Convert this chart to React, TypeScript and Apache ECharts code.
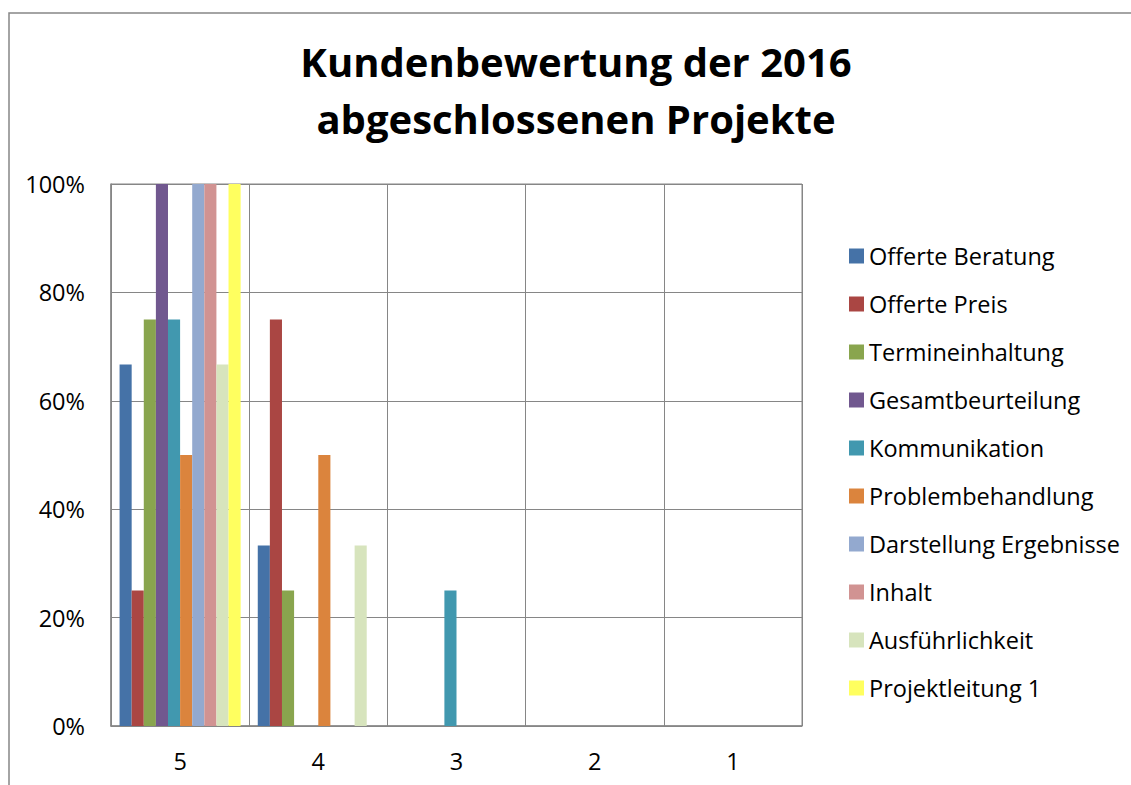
import React, { useEffect, useRef } from "react";
import * as echarts from "echarts";

const categories = ["5", "4", "3", "2", "1"];
const seriesNames = [
  "Offerte Beratung",
  "Offerte Preis",
  "Termineinhaltung",
  "Gesamtbeurteilung",
  "Kommunikation",
  "Problembehandlung",
  "Darstellung Ergebnisse",
  "Inhalt",
  "Ausführlichkeit",
  "Projektleitung 1",
];
const offerteBeratung = [66.7, 33.3, 0, 0, 0];
const offertePreis = [25, 75, 0, 0, 0];
const termineinhaltung = [75, 25, 0, 0, 0];
const gesamtbeurteilung = [100, 0, 0, 0, 0];
const kommunikation = [75, 0, 25, 0, 0];
const problembehandlung = [50, 50, 0, 0, 0];
const darstellung = [100, 0, 0, 0, 0];
const inhalt = [100, 0, 0, 0, 0];
const ausfuehrlichkeit = [66.7, 33.3, 0, 0, 0];
const projektleitung = [100, 0, 0, 0, 0];
const seriesValues = [
  offerteBeratung,
  offertePreis,
  termineinhaltung,
  gesamtbeurteilung,
  kommunikation,
  problembehandlung,
  darstellung,
  inhalt,
  ausfuehrlichkeit,
  projektleitung,
];
const colors = [
  "#4572A7",
  "#AA4643",
  "#89A54E",
  "#71588F",
  "#4198AF",
  "#DB843D",
  "#93A9CF",
  "#D19392",
  "#D7E4BD",
  "#FFFF5F",
];
const titleLines = ["Kundenbewertung der 2016", "abgeschlossenen Projekte"];

const FONT = "'Open Sans', 'Noto Sans', sans-serif";

export default function App() {
  const ref = useRef<HTMLDivElement>(null);
  useEffect(() => {
    if (!ref.current) return;
    const chart = echarts.init(ref.current, null, { renderer: "svg" });
    chart.setOption({
      animation: false,
      backgroundColor: "#ffffff",
      color: colors,
      title: {
        text: titleLines.join("\n"),
        left: 576,
        top: 33,
        padding: 0,
        textAlign: "center",
        textStyle: {
          fontFamily: FONT,
          fontWeight: "bold",
          fontSize: 40,
          lineHeight: 57,
          color: "#000",
        },
      },
      legend: {
        orient: "vertical",
        left: 849,
        top: 244,
        padding: 0,
        itemWidth: 15,
        itemHeight: 15,
        itemGap: 24,
        icon: "rect",
        data: seriesNames,
        textStyle: {
          fontFamily: FONT,
          fontSize: 23.5,
          lineHeight: 24,
          color: "#000",
        },
      },
      grid: {
        left: 111,
        top: 184,
        width: 691,
        height: 542,
        show: true,
        borderColor: "#868686",
        borderWidth: 1,
      },
      xAxis: {
        type: "category",
        data: categories,
        axisLine: { show: true, lineStyle: { color: "#868686", width: 1.5 } },
        axisTick: { show: false },
        splitLine: { show: true, lineStyle: { color: "#868686", width: 1 } },
        axisLabel: {
          color: "#000",
          fontFamily: FONT,
          fontSize: 23.5,
          margin: 23,
        },
      },
      yAxis: {
        type: "value",
        min: 0,
        max: 100,
        interval: 20,
        axisLine: { show: true, lineStyle: { color: "#868686", width: 1.5 } },
        axisTick: { show: false },
        splitLine: { show: true, lineStyle: { color: "#868686", width: 1 } },
        axisLabel: {
          color: "#000",
          fontFamily: FONT,
          fontSize: 23.5,
          margin: 26,
          formatter: (v: number) => v + "%",
        },
      },
      graphic: [
        {
          type: "rect",
          shape: { x: 9, y: 13, width: 1200, height: 900 },
          style: { fill: "none", stroke: "#868686", lineWidth: 1.5 },
          silent: true,
        },
      ],
      series: seriesNames.map((name, i) => ({
        name,
        type: "bar",
        data: seriesValues[i],
        barGap: "0%",
        barCategoryGap: "12.4%",
        itemStyle: { color: colors[i] },
      })),
    });
    return () => chart.dispose();
  }, []);
  return (
    <div
      ref={ref}
      style={{ position: "absolute", left: 0, top: 0, width: 1131, height: 785 }}
    />
  );
}
